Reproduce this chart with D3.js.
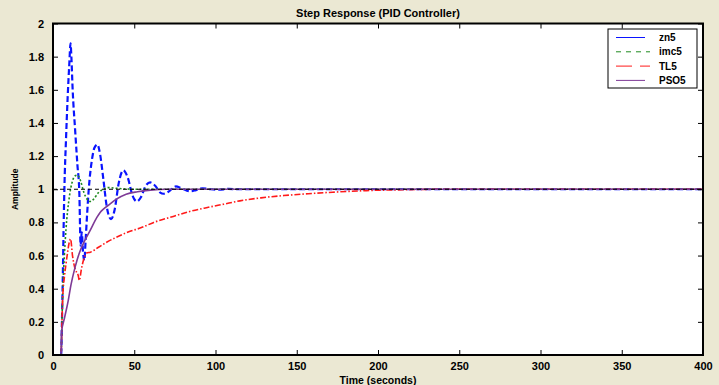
<!DOCTYPE html>
<html>
<head>
<meta charset="utf-8">
<script src="https://cdn.jsdelivr.net/npm/d3@7"></script>
<style>
  html, body { margin: 0; padding: 0; background: #ebe8d3; }
  svg { display: block; font-family: "Liberation Sans", Arial, Helvetica, sans-serif; }
</style>
</head>
<body>
<div id="chart"></div>
<script>
// ── Datos ─────────────────────────────────────────────────────────────────
const seriesNames = ["zn5", "imc5", "TL5", "PSO5"];

const zn5T = [0, 5, 5.5, 6, 6.5, 7, 8, 9, 10, 10.8, 11.3, 12.1, 13.6, 15, 16.2, 17, 17.7, 18.5, 19.3, 20, 21, 22, 24, 25.5, 27.3, 29, 31, 33, 35.7, 38, 40.5, 43.3, 46, 49, 51.6, 54, 57, 59.8, 63, 66, 68, 71, 75.6, 79, 84.4, 88, 92, 97, 102, 108, 115, 400];
const zn5Y = [0, 0, 0.2, 0.45, 0.75, 1.0, 1.3, 1.55, 1.75, 1.88, 1.8, 1.6, 1.36, 1.15, 0.98, 0.66, 0.74, 0.62, 0.57, 0.68, 0.85, 1.0, 1.18, 1.25, 1.27, 1.21, 1.06, 0.9, 0.82, 0.88, 1.04, 1.114, 1.07, 0.96, 0.926, 0.95, 1.02, 1.041, 1.02, 0.98, 0.973, 0.985, 1.017, 1.006, 0.987, 0.995, 1.006, 1.0, 0.997, 1.002, 1.0, 1.0];

const imc5T = [0, 5, 5.5, 6, 7, 8, 9, 10, 11, 12, 13.5, 15, 17, 19, 21, 22.8, 25, 28, 31, 34, 40, 50, 400];
const imc5Y = [0, 0, 0.2, 0.38, 0.6, 0.76, 0.87, 0.95, 1.01, 1.05, 1.08, 1.085, 1.05, 0.98, 0.94, 0.926, 0.94, 0.98, 1.0, 1.01, 1.005, 1.0, 1.0];

const tl5T = [0, 5, 5.5, 6, 7, 8, 9, 10, 10.8, 12, 13.6, 14.5, 15.5, 16.2, 17.5, 19, 20.7, 23, 28, 33, 40, 47, 54, 62, 74, 85, 95, 105, 115, 128, 142, 157, 172, 193, 215, 240, 400];
const tl5Y = [0, 0, 0.2, 0.35, 0.47, 0.55, 0.62, 0.68, 0.70, 0.6, 0.52, 0.5, 0.48, 0.45, 0.52, 0.58, 0.615, 0.62, 0.65, 0.68, 0.715, 0.745, 0.767, 0.8, 0.836, 0.868, 0.89, 0.91, 0.93, 0.948, 0.962, 0.973, 0.982, 0.992, 0.997, 1.0, 1.0];

const pso5T = [0, 5, 5.3, 7, 9.4, 11, 13.6, 16, 19, 22.8, 27, 29, 31, 35, 39, 45, 52, 60, 70, 400];
const pso5Y = [0, 0, 0.14, 0.22, 0.33, 0.42, 0.53, 0.61, 0.68, 0.75, 0.83, 0.86, 0.88, 0.91, 0.94, 0.97, 0.985, 0.995, 1.0, 1.0];

const xTicks = [0, 50, 100, 150, 200, 250, 300, 350, 400];
const yTicks = [0, 0.2, 0.4, 0.6, 0.8, 1, 1.2, 1.4, 1.6, 1.8, 2];
const steadyState = 1;

const titulo = "Step Response (PID Controller)";
const xLabel = "Time (seconds)";
const yLabel = "Amplitude";

// ── Estilos ───────────────────────────────────────────────────────────────
const estilos = {
  zn5:  { color: "#0a14ff", width: 2.2, dash: "6,3", legendDash: null },
  imc5: { color: "#1f8a1f", width: 1.6, dash: "2,2", legendDash: "5,5" },
  TL5:  { color: "#ff1a1a", width: 1.6, dash: "6,2,1.5,2", legendDash: "16,8,6,0" },
  PSO5: { color: "#7e3a96", width: 1.6, dash: null, legendDash: null }
};

const toPts = (ts, ys) => ts.map((t, i) => [t, ys[i]]);
const datos = [
  { name: "zn5",  pts: toPts(zn5T, zn5Y) },
  { name: "imc5", pts: toPts(imc5T, imc5Y) },
  { name: "TL5",  pts: toPts(tl5T, tl5Y) },
  { name: "PSO5", pts: toPts(pso5T, pso5Y) }
];

// ── Lienzo ────────────────────────────────────────────────────────────────
const width = 719, height = 385;
const margin = { top: 23.5, right: 16, bottom: 30, left: 53 };

const svg = d3.select("#chart").append("svg")
  .attr("width", width)
  .attr("height", height);

const x = d3.scaleLinear().domain([0, 400]).range([margin.left, width - margin.right]);
const y = d3.scaleLinear().domain([0, 2]).range([height - margin.bottom, margin.top]);

svg.append("rect")
  .attr("x", x(0)).attr("y", y(2))
  .attr("width", x(400) - x(0)).attr("height", y(0) - y(2))
  .attr("fill", "#fff");

// ── Curvas ────────────────────────────────────────────────────────────────
svg.append("clipPath").attr("id", "clip")
  .append("rect")
  .attr("x", x(0)).attr("y", y(2))
  .attr("width", x(400) - x(0)).attr("height", y(0) - y(2));

const line = d3.line()
  .x(d => x(d[0]))
  .y(d => y(d[1]))
  .curve(d3.curveMonotoneX);

const gLineas = svg.append("g").attr("clip-path", "url(#clip)");

gLineas.selectAll("path.serie")
  .data(datos)
  .join("path")
  .attr("class", "serie")
  .attr("d", d => line(d.pts))
  .attr("fill", "none")
  .attr("stroke", d => estilos[d.name].color)
  .attr("stroke-width", d => estilos[d.name].width)
  .attr("stroke-dasharray", d => estilos[d.name].dash)
  .attr("stroke-linejoin", "round");

// línea de régimen permanente
gLineas.append("line")
  .attr("x1", x(0)).attr("x2", x(400))
  .attr("y1", y(steadyState)).attr("y2", y(steadyState))
  .attr("stroke", "#000")
  .attr("stroke-width", 1)
  .attr("stroke-dasharray", "4,3");

// ── Ejes (ticks hacia dentro, estilo MATLAB) ──────────────────────────────
const tk = 5;
const fmtY = d => d3.format("")(+d.toFixed(1));

const axBottom = svg.append("g")
  .attr("transform", `translate(0,${y(0)})`)
  .call(d3.axisBottom(x).tickValues(xTicks).tickSizeInner(-tk).tickSizeOuter(0).tickPadding(tk + 2));
const axTop = svg.append("g")
  .attr("transform", `translate(0,${y(2)})`)
  .call(d3.axisTop(x).tickValues(xTicks).tickSizeInner(-tk).tickSizeOuter(0).tickFormat(""));
const axLeft = svg.append("g")
  .attr("transform", `translate(${x(0)},0)`)
  .call(d3.axisLeft(y).tickValues(yTicks).tickSizeInner(-tk).tickSizeOuter(0).tickPadding(tk + 4).tickFormat(fmtY));
const axRight = svg.append("g")
  .attr("transform", `translate(${x(400)},0)`)
  .call(d3.axisRight(y).tickValues(yTicks).tickSizeInner(-tk).tickSizeOuter(0).tickFormat(""));

[axBottom, axTop, axLeft, axRight].forEach(g => {
  g.select(".domain").remove();
  g.selectAll(".tick line").attr("stroke", "#000").attr("stroke-width", 1);
  g.selectAll(".tick text")
    .attr("fill", "#000")
    .style("font-size", "11px")
    .style("font-weight", "bold")
    .style("font-family", "'Liberation Sans', Arial, sans-serif");
});

svg.append("rect")
  .attr("x", x(0)).attr("y", y(2))
  .attr("width", x(400) - x(0)).attr("height", y(0) - y(2))
  .attr("fill", "none")
  .attr("stroke", "#000")
  .attr("stroke-width", 2);

// ── Textos ────────────────────────────────────────────────────────────────
svg.append("text")
  .attr("x", (x(0) + x(400)) / 2).attr("y", 17)
  .attr("text-anchor", "middle")
  .style("font-size", "11px").style("font-weight", "bold")
  .text(titulo);

svg.append("text")
  .attr("x", (x(0) + x(400)) / 2).attr("y", 384)
  .attr("text-anchor", "middle")
  .style("font-size", "10.5px").style("font-weight", "bold")
  .text(xLabel);

svg.append("text")
  .attr("transform", `translate(18,${(y(0) + y(2)) / 2}) rotate(-90)`)
  .attr("text-anchor", "middle")
  .style("font-size", "8.5px").style("font-weight", "bold")
  .text(yLabel);

// ── Leyenda ───────────────────────────────────────────────────────────────
const leg = svg.append("g").attr("transform", "translate(608,29)");
leg.append("rect")
  .attr("width", 89).attr("height", 59)
  .attr("fill", "#fff")
  .attr("stroke", "#000")
  .attr("stroke-width", 1);

const filas = leg.selectAll("g.fila")
  .data(seriesNames)
  .join("g")
  .attr("class", "fila")
  .attr("transform", (d, i) => `translate(0,${8.5 + i * 14.3})`);

filas.append("line")
  .attr("x1", 8).attr("x2", d => estilos[d].legendDash ? 42 : 37)
  .attr("stroke", d => estilos[d].color)
  .attr("stroke-width", 1)
  .attr("stroke-dasharray", d => estilos[d].legendDash);

filas.append("text")
  .attr("x", 51).attr("y", 3.5)
  .style("font-size", "10px").style("font-weight", "bold")
  .text(d => d);
</script>
</body>
</html>
